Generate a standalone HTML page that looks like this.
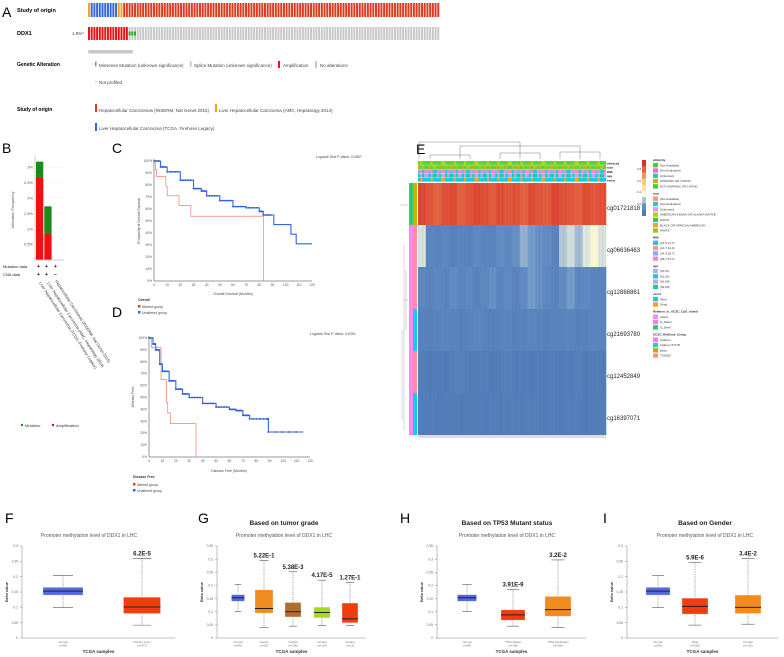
<!DOCTYPE html>
<html><head><meta charset="utf-8"><style>
html,body{margin:0;padding:0;background:#fff}
svg{display:block;font-family:"Liberation Sans",sans-serif}
</style></head><body>
<svg id="fig" width="784" height="657" viewBox="0 0 784 657" xmlns="http://www.w3.org/2000/svg">
<g id="pA">
<text x="2" y="17" font-size="14">A</text>
<text x="17" y="12" font-size="5.5" font-weight="bold">Study of origin</text>
<text x="17" y="35" font-size="5.5" font-weight="bold">DDX1</text>
<text x="72" y="35" font-size="4.5" fill="#444">1.9%*</text>
<rect x="88" y="50" width="45" height="3.5" rx="1.5" fill="#c8c8c8"/>
<text x="17" y="66" font-size="5" font-weight="bold">Genetic Alteration</text>
<rect x="95" y="61" width="1.5" height="6" fill="#bbb"/><rect x="95" y="63" width="1.5" height="2" fill="#1ab11a"/>
<text x="99" y="67" font-size="4.5" fill="#444">Missense Mutation (unknown significance)</text>
<rect x="190" y="61" width="1.5" height="6" fill="#e8b99a"/>
<text x="194" y="67" font-size="4.5" fill="#444">Splice Mutation (unknown significance)</text>
<rect x="278" y="61" width="2" height="7" fill="#ee1111"/>
<text x="283" y="67" font-size="4.5" fill="#444">Amplification</text>
<rect x="315" y="61" width="2" height="7" fill="#c8c8c8"/>
<text x="320" y="67" font-size="4.5" fill="#444">No alterations</text>
<rect x="95" y="81" width="2" height="0.6" fill="#aaa"/>
<text x="99" y="84" font-size="4.5" fill="#444">Not profiled</text>
<text x="17" y="111" font-size="5" font-weight="bold">Study of origin</text>
<rect x="95" y="104" width="2" height="8" fill="#dd3a1a"/>
<text x="99" y="112" font-size="4.5" fill="#444">Hepatocellular Carcinomas (INSERM, Nat Genet 2015)</text>
<rect x="215" y="104" width="2" height="8" fill="#f5a31a"/>
<text x="219" y="112" font-size="4.5" fill="#444">Liver Hepatocellular Carcinoma (AMC, Hepatology 2014)</text>
<rect x="95" y="123" width="2" height="8" fill="#3366dd"/>
<text x="99" y="130" font-size="4.5" fill="#444">Liver Hepatocellular Carcinoma (TCGA, Firehose Legacy)</text>
</g>
<g id="pB">
<text x="2" y="153" font-size="14">B</text>
<text transform="translate(14,210) rotate(-90)" font-size="4" text-anchor="middle" fill="#555">Alteration Frequency</text>
<line x1="35" y1="155" x2="35" y2="260" stroke="#999" stroke-width="0.5"/>
<line x1="35" y1="260" x2="64" y2="260" stroke="#999" stroke-width="0.5"/>
<text x="3" y="268" font-size="4" fill="#222">Mutation data</text>
<text x="3" y="276" font-size="4" fill="#222">CNA data</text>
<text x="37" y="268" font-size="5" font-weight="bold">+</text><text x="45" y="268" font-size="5" font-weight="bold">+</text><text x="54" y="268" font-size="5" font-weight="bold">+</text>
<text x="37" y="276" font-size="5" font-weight="bold">+</text><text x="45" y="276" font-size="5" font-weight="bold">+</text><text x="54" y="276" font-size="5" font-weight="bold">−</text>
<text transform="translate(55,281) rotate(57)" font-size="4" fill="#333">Hepatocellular Carcinomas (INSERM, Nat Genet 2015)</text>
<text transform="translate(47,283) rotate(57)" font-size="4" fill="#333">Liver Hepatocellular Carcinoma (AMC, Hepatology 2014)</text>
<text transform="translate(39,283) rotate(57)" font-size="4" fill="#333">Liver Hepatocellular Carcinoma (TCGA, Firehose Legacy)</text>
<circle cx="22" cy="425" r="1.2" fill="#1a8a1a"/><text x="25" y="427" font-size="4" fill="#333">Mutation</text>
<circle cx="53" cy="425" r="1.2" fill="#cc1111"/><text x="56" y="427" font-size="4" fill="#333">Amplification</text>
</g>
<g id="pC">
<text x="112" y="153" font-size="14">C</text>
<text x="316" y="158" font-size="3.5" fill="#444">Logrank Test P-Value: 0.0807</text>
<text transform="translate(140,221) rotate(-90)" font-size="3.5" text-anchor="middle" fill="#444">Probability of Overall Survival</text>
<text x="233" y="295" font-size="3.5" text-anchor="middle" fill="#444">Overall Survival (Months)</text>
<text x="138" y="301" font-size="3.5" font-weight="bold" fill="#333">Overall</text>
<rect x="138" y="305" width="2.5" height="2.5" fill="#e0401e"/><text x="142" y="308" font-size="3.5" fill="#444">Altered group</text>
<rect x="138" y="311" width="2.5" height="2.5" fill="#3366dd"/><text x="142" y="314" font-size="3.5" fill="#444">Unaltered group</text>
</g>
<g id="pD">
<text x="112" y="317" font-size="14">D</text>
<text x="310" y="335" font-size="3.5" fill="#444">Logrank Test P-Value: 0.6201</text>
<text transform="translate(134,397) rotate(-90)" font-size="3.5" text-anchor="middle" fill="#444">Disease Free</text>
<text x="229" y="472" font-size="3.5" text-anchor="middle" fill="#444">Disease Free (Months)</text>
<text x="133" y="478" font-size="3.5" font-weight="bold" fill="#333">Disease Free</text>
<rect x="133" y="483" width="2.5" height="2.5" fill="#e0401e"/><text x="137" y="486" font-size="3.5" fill="#444">Altered group</text>
<rect x="133" y="489" width="2.5" height="2.5" fill="#3366dd"/><text x="137" y="492" font-size="3.5" fill="#444">Unaltered group</text>
</g>
<g id="pE">
<text x="416" y="154" font-size="14">E</text>
</g>
<g id="boxes"></g>
</svg>
<script>
var NS="http://www.w3.org/2000/svg";
function mk(parent,tag,attrs,txt){var e=document.createElementNS(NS,tag);for(var k in attrs)e.setAttribute(k,attrs[k]);if(txt!=null)e.textContent=txt;parent.appendChild(e);return e;}
var svg=document.getElementById('fig');

/* ---------- Panel A oncoprint ---------- */
var studyCodes="o"+"bbbbbbbbbb"+"oo"+"r".repeat(117);
var ddx1Codes="a".repeat(15)+"g".repeat(3)+"n".repeat(111);
var studyColors={o:"#f5a31a",b:"#3366dd",r:"#dd3a1a"};
var pA=document.getElementById('pA');
var n=studyCodes.length, step=(440-88)/n;
for(var i=0;i<n;i++){
  var r=mk(pA,'rect',{x:88+i*step,y:3,width:step*0.72,height:14,fill:studyColors[studyCodes[i]]});
  
  
  var c=ddx1Codes[i];
  var r2=mk(pA,'rect',{x:88+i*step,y:27,width:step*0.72,height:13,fill:c==='a'?'#ee1111':'#c8c8c8'});
  
  
  if(c==='g'){mk(pA,'rect',{x:88+i*step,y:31.5,width:step*0.72,height:4,fill:'#1ab11a'});}
}

/* ---------- Panel B bar chart ---------- */
var bStudies=["INSERM","AMC","TCGA"];
var bAmp=[2.65,0.85,0];
var bMut=[0.53,0.88,0];
var bTicks=[0.5,1,1.5,2,2.5,3];
var pB=document.getElementById('pB');
function by(v){return 259.6-v*30.8;}
bTicks.forEach(function(t){
  mk(pB,'line',{x1:35,x2:64,y1:by(t),y2:by(t),stroke:'#eee','stroke-width':0.4});
  var tl=mk(pB,'text',{x:33,y:by(t)+1.5,'font-size':4,'text-anchor':'end',fill:'#555'},t+'%');
  
  
});
bStudies.forEach(function(s,i){
  var x=36+i*8.3;
  if(bAmp[i]>0){var a=mk(pB,'rect',{x:x,y:by(bAmp[i]),width:7.3,height:by(0)-by(bAmp[i]),fill:'#ee1111'});
  
  }
  if(bMut[i]>0){var m=mk(pB,'rect',{x:x,y:by(bAmp[i]+bMut[i]),width:7.3,height:by(bAmp[i])-by(bAmp[i]+bMut[i]),fill:'#1a8a1a'});
  
  }
});

/* ---------- KM curves ---------- */
var cAltT=[0,1,2,8,9,10,18,19,28,83];
var cAltS=[100,93,87,87,79,71,71,63,54,54];
var cUnT=[0,5,10,20,30,36,40,50,60,70,80,83,90,91,103,104,107,108,120];
var cUnS=[100,95,91,84,77,75,71,67,62,61,58,55,55,47,47,39,39,31,31];
var dAltT=[0,2,8,9,12,13,14,16,35];
var dAltS=[100,92,92,65,65,46,37,28,28];
var dUnT=[0,3,5,8,10,15,20,25,30,40,50,60,65,70,75,88,89,115];
var dUnS=[100,95,90,78,72,64,57,53,50,45,42,40,39,35,32,32,21,21];
var kmTicksY=[0,10,20,30,40,50,60,70,80,90,100];
var kmTicksX=[0,10,20,30,40,50,60,70,80,90,100,110,120];
function km(g,x0,x1,y0,y1,altT,altS,unT,unS,dropAlt,showX){
  var sx=function(t){return x0+t/120*(x1-x0);}, sy=function(s){return y0-(s/100)*(y0-y1);};
  mk(g,'line',{x1:x0,x2:x0,y1:y1-2,y2:y0,stroke:'#333','stroke-width':0.5});
  if(showX){mk(g,'line',{x1:x0,x2:x1,y1:y0,y2:y0,stroke:'#333','stroke-width':0.5});
  kmTicksX.forEach(function(t){var tl=mk(g,'text',{x:sx(t),y:y0+5,'font-size':3.3,'text-anchor':'middle',fill:'#555'},t);
    
    });}
  kmTicksY.forEach(function(t){if(sy(t)>y0+1)return;var tl=mk(g,'text',{x:x0-2,y:sy(t)+1,'font-size':3.3,'text-anchor':'end',fill:'#555'},t+'%');
    
    });
  function step(T,S){var d='M'+sx(T[0])+','+sy(S[0]);for(var i=1;i<T.length;i++){d+=' H'+sx(T[i])+' V'+sy(S[i]);}return d;}
  var pu=mk(g,'path',{d:step(unT,unS),fill:'none',stroke:'#3366dd','stroke-width':1.1});
  
  
  for(var i=0;i<unT.length-1;i++){ if(unT[i]<90){for(var k=0;k<5;k++){var tt=unT[i]+(unT[i+1]-unT[i])*k/5;mk(g,'rect',{x:sx(tt)-0.8,y:sy(unS[i])-0.8,width:1.6,height:1.6,fill:'#2e5fd6'});}}}
  var pa=mk(g,'path',{d:step(altT,altS)+(dropAlt?' V'+y0:''),fill:'none',stroke:'#ee6a50','stroke-width':0.6});
  
  
}
km(document.getElementById('pC'),154,312,281,161,cAltT,cAltS,cUnT,cUnS,true,true);
km(document.getElementById('pD'),149,310,457,338,dAltT,dAltS,dUnT,dUnS,true,true);

/* ---------- Panel E heatmap ---------- */
var probes=["cg01721818","cg06636463","cg12888861","cg21693780","cg12452849","cg16397071"];
var heatRows=[
[0.85,0.82,0.8,0.83,0.84,0.8,0.82,0.85,0.83,0.81,0.84,0.82,0.83,0.8,0.84,0.82,0.81,0.85,0.83,0.82,0.8,0.84,0.82,0.83],
[0.35,0.15,0.14,0.16,0.13,0.15,0.14,0.17,0.15,0.14,0.18,0.16,0.2,0.26,0.22,0.2,0.18,0.14,0.3,0.34,0.28,0.36,0.42,0.35],
[0.16,0.14,0.16,0.15,0.18,0.15,0.17,0.14,0.16,0.2,0.15,0.17,0.14,0.18,0.22,0.2,0.16,0.14,0.18,0.22,0.16,0.17,0.15,0.14],
[0.14,0.13,0.14,0.15,0.14,0.13,0.14,0.15,0.14,0.13,0.14,0.15,0.13,0.14,0.15,0.14,0.13,0.14,0.14,0.15,0.13,0.14,0.15,0.14],
[0.11,0.1,0.11,0.1,0.11,0.12,0.11,0.1,0.11,0.1,0.11,0.12,0.1,0.11,0.1,0.11,0.1,0.11,0.1,0.11,0.12,0.1,0.11,0.1],
[0.11,0.11,0.1,0.11,0.11,0.1,0.11,0.11,0.1,0.11,0.1,0.11,0.11,0.1,0.11,0.11,0.1,0.11,0.1,0.11,0.11,0.1,0.11,0.11]];
var pE=document.getElementById('pE');
function lerp(a,b,t){return a.map(function(v,i){return Math.round(v+(b[i]-v)*t);});}
var stops=[[0,[64,106,170]],[0.2,[99,142,196]],[0.4,[250,250,225]],[0.6,[250,200,120]],[0.9,[214,48,39]]];
function hcol(v){for(var i=0;i<stops.length-1;i++){if(v<=stops[i+1][0]){var t=Math.max(0,(v-stops[i][0])/(stops[i+1][0]-stops[i][0]));var c=lerp(stops[i][1],stops[i+1][1],t);return 'rgb('+c+')';}}return 'rgb(214,48,39)';}
var hx0=418,hx1=606,hy0=183,rh=42;
probes.forEach(function(p,ri){
  var vals=heatRows[ri],cw=(hx1-hx0)/vals.length;
  vals.forEach(function(v,ci){var c=mk(pE,'rect',{x:hx0+ci*cw,y:hy0+ri*rh,width:cw+0.3,height:rh,fill:hcol(v)});
    
    
    for(var k=1;k<4;k++){mk(pE,'rect',{x:hx0+ci*cw+k*cw/4,y:hy0+ri*rh,width:0.6,height:rh,fill:hcol(v+(k%2?0.03:-0.02)),opacity:0.7});}
  });
  var l=mk(pE,'text',{x:607,y:hy0+ri*rh+rh/2+6,'font-size':6,fill:'#222'},p);
  
  
});
mk(pE,'rect',{x:hx0,y:hy0+6*rh,width:hx1-hx0,height:3,fill:'#ddd'});
var leftA=["#2ecc71","#ff88ee","#ff88ee","#ff88ee","#ff88ee","#ff88ee"],leftB=["#c8b400","#ff8fa0","#ff8fa0","#11ccee","#ff8fa0","#11ccee"];
for(var i=0;i<6;i++){mk(pE,'rect',{x:409,y:hy0+i*rh,width:4,height:rh,fill:leftA[i]});mk(pE,'rect',{x:413,y:hy0+i*rh,width:4,height:rh,fill:leftB[i]});}
mk(pE,'path',{d:'M400,205 H408 M404,245 V430 M404,300 H408 M406,270 V330 M402,330 V420',stroke:'#999','stroke-width':0.4,fill:'none'});
var annNames=["ethnicity","race","BMI","age","event"];
var annPal=[["#5fcf3c","#5fcf3c","#5fcf3c","#a8d81e"],["#5fcf3c","#a8c81e","#5fcf3c","#c8b400"],["#11ccee","#ff8fa0","#88aaff","#ff88cc"],["#aab0ff","#11ccbb","#c8a0ff","#22cc88"],["#11ccee","#11ccee","#11ccee","#f5a31a"]];
annNames.forEach(function(nm,ri){
  for(var ci=0;ci<90;ci++){var pal=annPal[ri];mk(pE,'rect',{x:hx0+ci*(hx1-hx0)/90,y:161+ri*4.2,width:(hx1-hx0)/90+0.2,height:3.9,fill:pal[(ci*7+ri*3+(ci>>2))%pal.length]});}
  var t=mk(pE,'text',{x:607,y:164.5+ri*4.2,'font-size':3,'font-weight':'bold',fill:'#222'},nm);
  
  
});
mk(pE,'path',{d:'M419,159 V142 H520 V159 M460,159 V146 H580 V159 M500,159 V153 H540 V159 M430,159 V155 H470 V159 M560,159 V152 H600 V159',stroke:'#555','stroke-width':0.4,fill:'none'});
var cb=[0.9,0.8,0.7,0.6,0.5,0.4,0.3,0.2,0.1];
cb.forEach(function(v,i){mk(pE,'rect',{x:642,y:160+i*6.2,width:4,height:6.4,fill:hcol(v)});});
[["0.8",170],["0.6",182],["0.4",193],["0.2",205]].forEach(function(a){mk(pE,'text',{x:637,y:a[1],'font-size':3,fill:'#444'},a[0]);});
var legs=[["ethnicity",[["#55cc22","[Not Available]"],["#ff66dd","[Not Evaluated]"],["#22ccaa","[Unknown]"],["#c8b400","HISPANIC OR LATINO"],["#44cc44","NOT HISPANIC OR LATINO"]]],
["race",[["#ff9966","[Not Available]"],["#11ccee","[Not Evaluated]"],["#dd99ff","[Unknown]"],["#c8c800","AMERICAN INDIAN OR ALASKA NATIVE"],["#22cc66","ASIAN"],["#ff9933","BLACK OR AFRICAN AMERICAN"],["#99cc00","WHITE"]]],
["BMI",[["#11ccee","(14.5,21.7]"],["#ff9988","(21.7,24.4]"],["#88aaff","(24.4,28.7]"],["#ff88cc","(28.7,51.7]"]]],
["age",[["#aab0ff","(16,51]"],["#22ccbb","(51,61]"],["#c8a0ff","(61,69]"],["#22cc88","(69,90]"]]],
["event",[["#11ccee","Alive"],["#f5a31a","Dead"]]],
["Relation_to_UCSC_CpG_Island",[["#ff88ee","Island"],["#ff77ff","N_Shore"],["#22cc66","S_Shelf"]]],
["UCSC_RefGene_Group",[["#ff77ee","1stExon"],["#11ccee","1stExon;5'UTR"],["#c8a800","Body"],["#ff8fa0","TSS200"]]]];
var ly=161;
legs.forEach(function(g){
  var t=mk(pE,'text',{x:653,y:ly,'font-size':3,'font-weight':'bold',fill:'#222'},g[0]);
  
  
  ly+=2;
  g[1].forEach(function(it){mk(pE,'rect',{x:653,y:ly,width:5,height:4.4,fill:it[0]});mk(pE,'text',{x:660,y:ly+3.3,'font-size':3,fill:'#333'},it[1]);ly+=5.3;});
  ly+=5;
});

/* ---------- Box plots ---------- */
var G=document.getElementById('boxes');
var fGroups=["Normal","Primary tumor"],fN=["(n=50)","(n=377)"];
var fLo=[0.1,0.042],fQ1=[0.14,0.08],fMed=[0.153,0.101],fQ3=[0.165,0.133],fHi=[0.204,0.26],fP=["","6.2E-5"];
var gGroups=["Normal","Grade1","Grade2","Grade3","Grade4"],gN=["(n=50)","(n=55)","(n=180)","(n=124)","(n=13)"];
var gLo=[0.1,0.04,0.045,0.048,0.048],gQ1=[0.14,0.095,0.08,0.077,0.058],gMed=[0.153,0.112,0.1,0.097,0.073],gQ3=[0.165,0.183,0.135,0.117,0.133],gHi=[0.204,0.295,0.252,0.22,0.212],gP=["","5.22E-1","5.38E-3","4.17E-5","1.27E-1"];
var hGroups=["Normal","TP53 Mutant","TP53 NonMutant"],hN=["(n=50)","(n=106)","(n=266)"];
var hLo=[0.1,0.045,0.04],hQ1=[0.14,0.068,0.083],hMed=[0.153,0.088,0.108],hQ3=[0.165,0.107,0.158],hHi=[0.204,0.185,0.297],hP=["","3.91E-9","3.2E-2"];
var iGroups=["Normal","Male","Female"],iN=["(n=50)","(n=255)","(n=122)"];
var iLo=[0.1,0.042,0.045],iQ1=[0.14,0.078,0.08],iMed=[0.153,0.103,0.1],iQ3=[0.165,0.13,0.14],iHi=[0.204,0.247,0.26],iP=["","5.9E-6","3.4E-2"];
function boxPanel(o){
  var g=mk(G,'g',{});
  
  
  mk(g,'text',{x:o.lx,y:523,'font-size':14},o.letter);
  if(o.title)mk(g,'text',{x:o.tc,y:525,'font-size':6.5,'font-weight':'bold','text-anchor':'middle',fill:'#222'},o.title);
  mk(g,'text',{x:o.tc,y:537,'font-size':5,'text-anchor':'middle',fill:'#555'},'Promoter methylation level of DDX1 in LHC');
  var y0=638,ytop=546,sy=function(v){return y0-v/o.ymax*(y0-ytop);};
  mk(g,'line',{x1:o.ax,x2:o.ax,y1:ytop,y2:y0,stroke:'#666','stroke-width':0.4});
  mk(g,'line',{x1:o.ax,x2:o.ax2,y1:y0,y2:y0,stroke:'#666','stroke-width':0.4});
  o.ticks.forEach(function(t){mk(g,'line',{x1:o.ax-2,x2:o.ax,y1:sy(t),y2:sy(t),stroke:'#666','stroke-width':0.4});
    var tl=mk(g,'text',{x:o.ax-4,y:sy(t)+1.2,'font-size':3.3,'text-anchor':'end',fill:'#666'},t);
    
    });
  mk(g,'text',{transform:'translate('+(o.ax-14)+','+(592)+') rotate(-90)','font-size':4,'font-weight':'bold','text-anchor':'middle',fill:'#333'},'Beta value');
  mk(g,'text',{x:(o.ax+o.ax2)/2,y:653,'font-size':4.5,'font-weight':'bold','text-anchor':'middle',fill:'#333'},'TCGA samples');
  o.groups.forEach(function(nm,i){
    var cx=o.cx[i],w=o.w[i];
    mk(g,'line',{x1:cx,x2:cx,y1:sy(o.hi[i]),y2:sy(o.lo[i]),stroke:'#777','stroke-width':0.6,'stroke-dasharray':'1,0.7'});
    mk(g,'line',{x1:cx-w/4,x2:cx+w/4,y1:sy(o.hi[i]),y2:sy(o.hi[i]),stroke:'#555','stroke-width':0.6});
    mk(g,'line',{x1:cx-w/4,x2:cx+w/4,y1:sy(o.lo[i]),y2:sy(o.lo[i]),stroke:'#555','stroke-width':0.6});
    var b=mk(g,'rect',{x:cx-w/2,y:sy(o.q3[i]),width:w,height:sy(o.q1[i])-sy(o.q3[i]),fill:o.col[i],stroke:'#ddd','stroke-width':0.4});
    
    
    mk(g,'line',{x1:cx-w/2,x2:cx+w/2,y1:sy(o.med[i]),y2:sy(o.med[i]),stroke:'#222','stroke-width':1});
    if(o.p[i]){var pt=mk(g,'text',{x:cx,y:sy(o.hi[i])-3,'font-size':6,'font-weight':'bold','text-anchor':'middle',fill:'#222'},o.p[i]);
      
      }
    mk(g,'text',{x:cx,y:643,'font-size':2.8,'text-anchor':'middle',fill:'#777'},nm);
    mk(g,'text',{x:cx,y:646.5,'font-size':2.8,'text-anchor':'middle',fill:'#777'},o.n[i]);
  });
}
boxPanel({letter:'F',lx:5,tc:89,ax:22,ax2:175,ymax:0.3,ticks:[0,0.05,0.1,0.15,0.2,0.25,0.3],groups:fGroups,n:fN,lo:fLo,q1:fQ1,med:fMed,q3:fQ3,hi:fHi,p:fP,cx:[63,142],w:[40,37],col:['#5468e0','#f23c10']});
boxPanel({letter:'G',lx:198,title:'Based on tumor grade',tc:284,ax:217,ax2:366,ymax:0.35,ticks:[0,0.05,0.1,0.15,0.2,0.25,0.3,0.35],groups:gGroups,n:gN,lo:gLo,q1:gQ1,med:gMed,q3:gQ3,hi:gHi,p:gP,cx:[238,264,293,322,350],w:[13,18,16,16,16],col:['#5468e0','#f08c1e','#b06e30','#a8d81e','#f23c10']});
boxPanel({letter:'H',lx:400,title:'Based on TP53 Mutant status',tc:507,ax:437,ax2:586,ymax:0.35,ticks:[0,0.05,0.1,0.15,0.2,0.25,0.3,0.35],groups:hGroups,n:hN,lo:hLo,q1:hQ1,med:hMed,q3:hQ3,hi:hHi,p:hP,cx:[467,513,558],w:[19,24,26],col:['#5468e0','#f23c10','#f08c1e']});
boxPanel({letter:'I',lx:603,title:'Based on Gender',tc:705,ax:627,ax2:778,ymax:0.3,ticks:[0,0.05,0.1,0.15,0.2,0.25,0.3],groups:iGroups,n:iN,lo:iLo,q1:iQ1,med:iMed,q3:iQ3,hi:iHi,p:iP,cx:[658,695,748],w:[24,26,26],col:['#5468e0','#f23c10','#f08c1e']});
</script>
</body></html>
